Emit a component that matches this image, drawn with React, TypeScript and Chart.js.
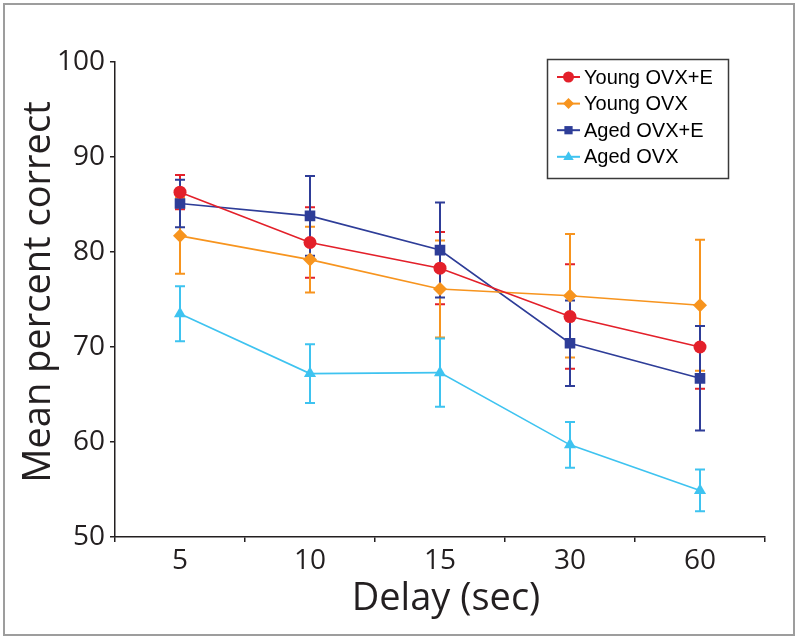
import React, { useEffect, useRef } from 'react';
import { Chart, registerables } from 'chart.js';

Chart.register(...registerables);

// ---- data ----
const delays = ['5', '10', '15', '30', '60'];
const seriesNames = ['Young OVX+E', 'Young OVX', 'Aged OVX+E', 'Aged OVX'];
const youngOvxE = [86.3, 81.0, 78.3, 73.2, 70.0];
const youngOvx = [81.7, 79.2, 76.1, 75.4, 74.4];
const agedOvxE = [85.1, 83.8, 80.2, 70.4, 66.7];
const agedOvx = [73.5, 67.2, 67.3, 59.7, 54.9];
const youngOvxEErr = [1.8, 3.7, 3.8, 5.5, 4.4];
const youngOvxErr = [4.0, 3.45, 5.1, 6.5, 6.9];
const agedOvxEErr = [2.5, 4.2, 5.0, 4.5, 5.5];
const agedOvxErr = [2.9, 3.1, 3.6, 2.4, 2.2];
const yTicks = [50, 60, 70, 80, 90, 100];
const xTitle = 'Delay (sec)';
const yTitle = 'Mean percent correct';

// ---- styles ----
const colors = ['#e3202a', '#f7941e', '#2e3d98', '#3ec3f0'];
const markers = ['circle', 'rectRot', 'rect', 'triangle'];
const markerRadius = [6.5, 7, 7.5, 7];
const ink = '#231f20';
const tickFont = 'Open Sans';

const seriesValues = [youngOvxE, youngOvx, agedOvxE, agedOvx];
const seriesErrors = [youngOvxEErr, youngOvxErr, agedOvxEErr, agedOvxErr];

function drawMarker(ctx: CanvasRenderingContext2D, kind: string, x: number, y: number, r: number) {
  ctx.beginPath();
  if (kind === 'circle') {
    ctx.arc(x, y, r, 0, Math.PI * 2);
  } else if (kind === 'rectRot') {
    ctx.moveTo(x, y - r);
    ctx.lineTo(x + r, y);
    ctx.lineTo(x, y + r);
    ctx.lineTo(x - r, y);
    ctx.closePath();
  } else if (kind === 'rect') {
    const s = r * 0.75;
    ctx.rect(x - s, y - s, 2 * s, 2 * s);
  } else {
    ctx.moveTo(x, y - r);
    ctx.lineTo(x + r * 0.95, y + r * 0.6);
    ctx.lineTo(x - r * 0.95, y + r * 0.6);
    ctx.closePath();
  }
  ctx.fill();
}

const errorBarPlugin = {
  id: 'errorBars',
  beforeDatasetsDraw(chart: any) {
    const ctx = chart.ctx as CanvasRenderingContext2D;
    const xs = chart.scales.x;
    const ys = chart.scales.y;
    ctx.save();
    seriesValues.forEach((vals, si) => {
      ctx.strokeStyle = colors[si];
      ctx.lineWidth = 2;
      vals.forEach((v, i) => {
        const e = seriesErrors[si][i];
        const x = xs.getPixelForValue(i);
        const yt = ys.getPixelForValue(v + e);
        const yb = ys.getPixelForValue(v - e);
        ctx.beginPath();
        ctx.moveTo(x, yt);
        ctx.lineTo(x, yb);
        ctx.moveTo(x - 5, yt);
        ctx.lineTo(x + 5, yt);
        ctx.moveTo(x - 5, yb);
        ctx.lineTo(x + 5, yb);
        ctx.stroke();
      });
    });
    ctx.restore();
  },
};

const decorPlugin = {
  id: 'decor',
  afterDraw(chart: any) {
    const ctx = chart.ctx as CanvasRenderingContext2D;
    const area = chart.chartArea;
    ctx.save();
    // outer frame
    ctx.strokeStyle = '#9d9d9d';
    ctx.lineWidth = 2;
    ctx.strokeRect(4, 4, 790, 631);

    // axis titles
    ctx.fillStyle = ink;
    ctx.font = `38px "${tickFont}"`;
    ctx.textAlign = 'center';
    ctx.textBaseline = 'alphabetic';
    ctx.fillText(xTitle, (area.left + area.right) / 2 + 6, 610);
    ctx.save();
    ctx.translate(50, 292);
    ctx.rotate(-Math.PI / 2);
    ctx.fillText(yTitle, 0, 0);
    ctx.restore();

    // legend
    const bx = 547, by = 59, bw = 181, bh = 119;
    ctx.fillStyle = '#ffffff';
    ctx.fillRect(bx, by, bw, bh);
    ctx.strokeStyle = '#3a3a3a';
    ctx.lineWidth = 1.5;
    ctx.strokeRect(bx + 0.5, by + 0.5, bw, bh);
    ctx.font = '20px "Liberation Sans"';
    ctx.textAlign = 'left';
    ctx.textBaseline = 'middle';
    seriesNames.forEach((name, i) => {
      const y = 77 + i * 26.6;
      ctx.strokeStyle = colors[i];
      ctx.fillStyle = colors[i];
      ctx.lineWidth = 2;
      ctx.beginPath();
      ctx.moveTo(557, y);
      ctx.lineTo(580, y);
      ctx.stroke();
      drawMarker(ctx, markers[i], 568.5, y, 5.5);
      ctx.fillStyle = '#000000';
      ctx.fillText(name, 584, y + 1);
    });
    ctx.restore();
  },
};

export default function App() {
  const ref = useRef<HTMLCanvasElement>(null);
  useEffect(() => {
    const canvas = ref.current;
    if (!canvas) return;
    const chart = new Chart(canvas, {
      type: 'line',
      data: {
        labels: delays,
        datasets: seriesNames.map((name, i) => ({
          label: name,
          data: seriesValues[i],
          borderColor: colors[i],
          backgroundColor: colors[i],
          borderWidth: 1.6,
          pointStyle: markers[i] as any,
          pointRadius: markerRadius[i],
          pointBorderWidth: 0,
          pointBackgroundColor: colors[i],
          pointBorderColor: colors[i],
          tension: 0,
          fill: false,
        })),
      },
      options: {
        responsive: false,
        animation: false,
        devicePixelRatio: 1,
        events: [],
        layout: { padding: { top: 62, right: 35, left: 0, bottom: 0 } },
        plugins: {
          legend: { display: false },
          tooltip: { enabled: false },
          title: { display: false },
        },
        scales: {
          x: {
            type: 'category',
            offset: true,
            grid: {
              offset: true,
              drawOnChartArea: false,
              drawTicks: true,
              tickLength: 5,
              color: ink,
              lineWidth: 1.5,
            },
            border: { color: ink, width: 1.5 },
            ticks: {
              color: ink,
              font: { family: tickFont, size: 28 },
              padding: 2,
              maxRotation: 0,
              autoSkip: false,
            },
            afterFit: (s: any) => {
              s.height = 105;
            },
          },
          y: {
            type: 'linear',
            min: 50,
            max: 100,
            afterBuildTicks: (s: any) => {
              s.ticks = yTicks.map((v) => ({ value: v }));
            },
            grid: {
              drawOnChartArea: false,
              drawTicks: true,
              tickLength: 5,
              color: ink,
              lineWidth: 1.5,
            },
            border: { color: ink, width: 1.5 },
            ticks: {
              color: ink,
              font: { family: tickFont, size: 28 },
              padding: 5,
            },
            afterFit: (s: any) => {
              s.width = 115;
            },
          },
        },
      },
      plugins: [errorBarPlugin, decorPlugin],
    });
    return () => chart.destroy();
  }, []);
  return (
    <div style={{ position: 'fixed', left: 0, top: 0, width: 800, height: 642, background: '#fff' }}>
      <canvas ref={ref} width={800} height={642} style={{ display: 'block' }} />
    </div>
  );
}
